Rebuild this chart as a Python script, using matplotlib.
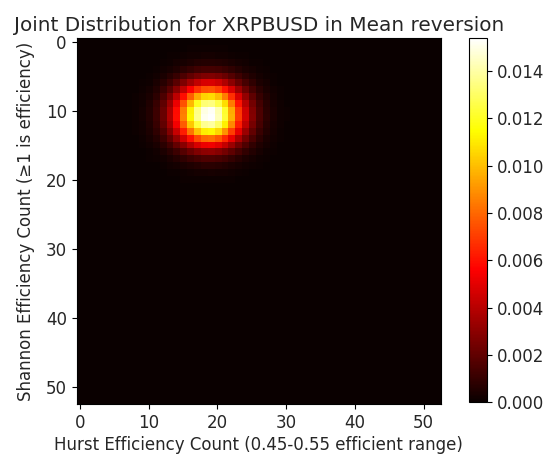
import numpy as np
import matplotlib
matplotlib.use("Agg")
import matplotlib.pyplot as plt

# Grid size (counts 0..52 on both axes)
n_bins = 53

# Marginal probabilities of the Hurst efficiency count, starting at count 8
hurst_start = 8
hurst_marginal = [0.0008, 0.0020, 0.0044, 0.0090, 0.0168, 0.0288, 0.0452, 0.0649,
                  0.0856, 0.1036, 0.1149, 0.1169, 0.1091, 0.0934, 0.0733, 0.0527,
                  0.0348, 0.0211, 0.0117, 0.0060, 0.0028, 0.0012, 0.0005]

# Marginal probabilities of the Shannon efficiency count, starting at count 0
shannon_start = 0
shannon_marginal = [0.0003, 0.0008, 0.0022, 0.0054, 0.0118, 0.0233, 0.0410, 0.0647,
                    0.0913, 0.1153, 0.1303, 0.1318, 0.1193, 0.0966, 0.0700, 0.0454,
                    0.0263, 0.0137, 0.0063, 0.0026, 0.0010, 0.0003]

title = "Joint Distribution for XRPBUSD in Mean reversion"
xlabel = "Hurst Efficiency Count (0.45-0.55 efficient range)"
ylabel = "Shannon Efficiency Count (\u22651 is efficiency)"

plt.rcParams["font.size"] = 12
plt.rcParams["text.color"] = "#262626"
plt.rcParams["axes.labelcolor"] = "#262626"
plt.rcParams["xtick.labelcolor"] = "#262626"
plt.rcParams["ytick.labelcolor"] = "#262626"

px = np.zeros(n_bins)
px[hurst_start:hurst_start + len(hurst_marginal)] = hurst_marginal
py = np.zeros(n_bins)
py[shannon_start:shannon_start + len(shannon_marginal)] = shannon_marginal
joint = np.outer(py, px)

fig = plt.figure(figsize=(5.47, 4.57), dpi=100)
ax = fig.add_axes([0.140, 0.116, 0.666, 0.800])
im = ax.imshow(joint, cmap="hot", interpolation="nearest", aspect="auto")
ax.set_xticks([0, 10, 20, 30, 40, 50])
ax.set_yticks([0, 10, 20, 30, 40, 50])
ax.set_title(title, fontsize=14.4, pad=5)
ax.set_xlabel(xlabel, labelpad=3)
ax.set_ylabel(ylabel, labelpad=8)

cax = fig.add_axes([0.857, 0.120, 0.034, 0.797])
cb = fig.colorbar(im, cax=cax)
cb.set_ticks(np.arange(0, 0.0150, 0.002))

fig.savefig("out.png", dpi=100)
